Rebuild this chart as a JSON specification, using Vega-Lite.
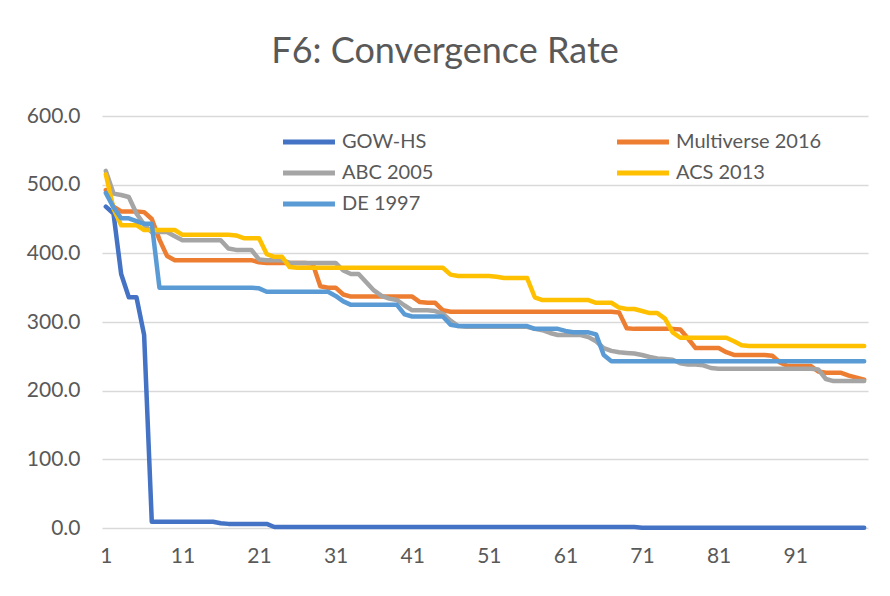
{
  "$schema": "https://vega.github.io/schema/vega-lite/v6.json",
  "width": 766,
  "height": 412,
  "autosize": {"type": "none"},
  "padding": {"left": 102, "top": 116, "right": 22, "bottom": 68},
  "background": "white",
  "title": {
    "text": "F6: Convergence Rate",
    "font": "Lato",
    "fontSize": 36,
    "fontWeight": "normal",
    "color": "#595959",
    "anchor": "middle",
    "dx": -40,
    "offset": 34
  },
  "data": {
    "values": [
      {"i":1,"GOW-HS":468,"Multiverse 2016":492,"ABC 2005":520,"ACS 2013":515,"DE 1997":488},
      {"i":2,"GOW-HS":458,"Multiverse 2016":468,"ABC 2005":487,"ACS 2013":465,"DE 1997":467},
      {"i":3,"GOW-HS":370,"Multiverse 2016":461,"ABC 2005":485,"ACS 2013":441,"DE 1997":451},
      {"i":4,"GOW-HS":336,"Multiverse 2016":461,"ABC 2005":482,"ACS 2013":441,"DE 1997":451},
      {"i":5,"GOW-HS":336,"Multiverse 2016":461,"ABC 2005":458,"ACS 2013":441,"DE 1997":447},
      {"i":6,"GOW-HS":281,"Multiverse 2016":460,"ABC 2005":442,"ACS 2013":434,"DE 1997":443},
      {"i":7,"GOW-HS":9,"Multiverse 2016":450,"ABC 2005":431,"ACS 2013":434,"DE 1997":443},
      {"i":8,"GOW-HS":9,"Multiverse 2016":420,"ABC 2005":431,"ACS 2013":434,"DE 1997":350},
      {"i":9,"GOW-HS":9,"Multiverse 2016":396,"ABC 2005":431,"ACS 2013":434,"DE 1997":350},
      {"i":10,"GOW-HS":9,"Multiverse 2016":390,"ABC 2005":425,"ACS 2013":434,"DE 1997":350},
      {"i":11,"GOW-HS":9,"Multiverse 2016":390,"ABC 2005":419,"ACS 2013":427,"DE 1997":350},
      {"i":12,"GOW-HS":9,"Multiverse 2016":390,"ABC 2005":419,"ACS 2013":427,"DE 1997":350},
      {"i":13,"GOW-HS":9,"Multiverse 2016":390,"ABC 2005":419,"ACS 2013":427,"DE 1997":350},
      {"i":14,"GOW-HS":9,"Multiverse 2016":390,"ABC 2005":419,"ACS 2013":427,"DE 1997":350},
      {"i":15,"GOW-HS":9,"Multiverse 2016":390,"ABC 2005":419,"ACS 2013":427,"DE 1997":350},
      {"i":16,"GOW-HS":7,"Multiverse 2016":390,"ABC 2005":419,"ACS 2013":427,"DE 1997":350},
      {"i":17,"GOW-HS":6,"Multiverse 2016":390,"ABC 2005":407,"ACS 2013":427,"DE 1997":350},
      {"i":18,"GOW-HS":6,"Multiverse 2016":390,"ABC 2005":405,"ACS 2013":426,"DE 1997":350},
      {"i":19,"GOW-HS":6,"Multiverse 2016":390,"ABC 2005":405,"ACS 2013":422,"DE 1997":350},
      {"i":20,"GOW-HS":6,"Multiverse 2016":390,"ABC 2005":405,"ACS 2013":422,"DE 1997":350},
      {"i":21,"GOW-HS":6,"Multiverse 2016":387,"ABC 2005":391,"ACS 2013":422,"DE 1997":349},
      {"i":22,"GOW-HS":6,"Multiverse 2016":386,"ABC 2005":390,"ACS 2013":399,"DE 1997":344},
      {"i":23,"GOW-HS":1.5,"Multiverse 2016":386,"ABC 2005":390,"ACS 2013":395,"DE 1997":344},
      {"i":24,"GOW-HS":1.5,"Multiverse 2016":386,"ABC 2005":390,"ACS 2013":395,"DE 1997":344},
      {"i":25,"GOW-HS":1.5,"Multiverse 2016":386,"ABC 2005":386,"ACS 2013":380,"DE 1997":344},
      {"i":26,"GOW-HS":1.5,"Multiverse 2016":386,"ABC 2005":386,"ACS 2013":379,"DE 1997":344},
      {"i":27,"GOW-HS":1.5,"Multiverse 2016":386,"ABC 2005":386,"ACS 2013":379,"DE 1997":344},
      {"i":28,"GOW-HS":1.5,"Multiverse 2016":385,"ABC 2005":386,"ACS 2013":379,"DE 1997":344},
      {"i":29,"GOW-HS":1.5,"Multiverse 2016":352,"ABC 2005":386,"ACS 2013":379,"DE 1997":344},
      {"i":30,"GOW-HS":1.5,"Multiverse 2016":350,"ABC 2005":386,"ACS 2013":379,"DE 1997":344},
      {"i":31,"GOW-HS":1.5,"Multiverse 2016":350,"ABC 2005":386,"ACS 2013":379,"DE 1997":338},
      {"i":32,"GOW-HS":1.5,"Multiverse 2016":340,"ABC 2005":375,"ACS 2013":379,"DE 1997":330},
      {"i":33,"GOW-HS":1.5,"Multiverse 2016":337,"ABC 2005":370,"ACS 2013":379,"DE 1997":325},
      {"i":34,"GOW-HS":1.5,"Multiverse 2016":337,"ABC 2005":370,"ACS 2013":379,"DE 1997":325},
      {"i":35,"GOW-HS":1.5,"Multiverse 2016":337,"ABC 2005":358,"ACS 2013":379,"DE 1997":325},
      {"i":36,"GOW-HS":1.5,"Multiverse 2016":337,"ABC 2005":346,"ACS 2013":379,"DE 1997":325},
      {"i":37,"GOW-HS":1.5,"Multiverse 2016":337,"ABC 2005":338,"ACS 2013":379,"DE 1997":325},
      {"i":38,"GOW-HS":1.5,"Multiverse 2016":337,"ABC 2005":334,"ACS 2013":379,"DE 1997":325},
      {"i":39,"GOW-HS":1.5,"Multiverse 2016":337,"ABC 2005":332,"ACS 2013":379,"DE 1997":325},
      {"i":40,"GOW-HS":1.5,"Multiverse 2016":337,"ABC 2005":324,"ACS 2013":379,"DE 1997":311},
      {"i":41,"GOW-HS":1.5,"Multiverse 2016":337,"ABC 2005":317,"ACS 2013":379,"DE 1997":308},
      {"i":42,"GOW-HS":1.5,"Multiverse 2016":329,"ABC 2005":317,"ACS 2013":379,"DE 1997":308},
      {"i":43,"GOW-HS":1.5,"Multiverse 2016":328,"ABC 2005":317,"ACS 2013":379,"DE 1997":308},
      {"i":44,"GOW-HS":1.5,"Multiverse 2016":328,"ABC 2005":316,"ACS 2013":379,"DE 1997":308},
      {"i":45,"GOW-HS":1.5,"Multiverse 2016":317,"ABC 2005":312,"ACS 2013":379,"DE 1997":308},
      {"i":46,"GOW-HS":1.5,"Multiverse 2016":315,"ABC 2005":302,"ACS 2013":369,"DE 1997":296},
      {"i":47,"GOW-HS":1.5,"Multiverse 2016":315,"ABC 2005":294,"ACS 2013":367,"DE 1997":294},
      {"i":48,"GOW-HS":1.5,"Multiverse 2016":315,"ABC 2005":293,"ACS 2013":367,"DE 1997":294},
      {"i":49,"GOW-HS":1.5,"Multiverse 2016":315,"ABC 2005":293,"ACS 2013":367,"DE 1997":294},
      {"i":50,"GOW-HS":1.5,"Multiverse 2016":315,"ABC 2005":293,"ACS 2013":367,"DE 1997":294},
      {"i":51,"GOW-HS":1.5,"Multiverse 2016":315,"ABC 2005":293,"ACS 2013":367,"DE 1997":294},
      {"i":52,"GOW-HS":1.5,"Multiverse 2016":315,"ABC 2005":293,"ACS 2013":366,"DE 1997":294},
      {"i":53,"GOW-HS":1.5,"Multiverse 2016":315,"ABC 2005":293,"ACS 2013":364,"DE 1997":294},
      {"i":54,"GOW-HS":1.5,"Multiverse 2016":315,"ABC 2005":293,"ACS 2013":364,"DE 1997":294},
      {"i":55,"GOW-HS":1.5,"Multiverse 2016":315,"ABC 2005":293,"ACS 2013":364,"DE 1997":294},
      {"i":56,"GOW-HS":1.5,"Multiverse 2016":315,"ABC 2005":293,"ACS 2013":364,"DE 1997":294},
      {"i":57,"GOW-HS":1.5,"Multiverse 2016":315,"ABC 2005":290,"ACS 2013":336,"DE 1997":290},
      {"i":58,"GOW-HS":1.5,"Multiverse 2016":315,"ABC 2005":288,"ACS 2013":332,"DE 1997":290},
      {"i":59,"GOW-HS":1.5,"Multiverse 2016":315,"ABC 2005":284,"ACS 2013":332,"DE 1997":290},
      {"i":60,"GOW-HS":1.5,"Multiverse 2016":315,"ABC 2005":281,"ACS 2013":332,"DE 1997":290},
      {"i":61,"GOW-HS":1.5,"Multiverse 2016":315,"ABC 2005":281,"ACS 2013":332,"DE 1997":287},
      {"i":62,"GOW-HS":1.5,"Multiverse 2016":315,"ABC 2005":281,"ACS 2013":332,"DE 1997":285},
      {"i":63,"GOW-HS":1.5,"Multiverse 2016":315,"ABC 2005":281,"ACS 2013":332,"DE 1997":285},
      {"i":64,"GOW-HS":1.5,"Multiverse 2016":315,"ABC 2005":278,"ACS 2013":332,"DE 1997":285},
      {"i":65,"GOW-HS":1.5,"Multiverse 2016":315,"ABC 2005":272,"ACS 2013":328,"DE 1997":282},
      {"i":66,"GOW-HS":1.5,"Multiverse 2016":315,"ABC 2005":262,"ACS 2013":328,"DE 1997":252},
      {"i":67,"GOW-HS":1.5,"Multiverse 2016":315,"ABC 2005":258,"ACS 2013":328,"DE 1997":243},
      {"i":68,"GOW-HS":1.5,"Multiverse 2016":314,"ABC 2005":256,"ACS 2013":321,"DE 1997":243},
      {"i":69,"GOW-HS":1.5,"Multiverse 2016":291,"ABC 2005":255,"ACS 2013":319,"DE 1997":243},
      {"i":70,"GOW-HS":1.5,"Multiverse 2016":290,"ABC 2005":254,"ACS 2013":319,"DE 1997":243},
      {"i":71,"GOW-HS":0.3,"Multiverse 2016":290,"ABC 2005":252,"ACS 2013":316,"DE 1997":243},
      {"i":72,"GOW-HS":0.3,"Multiverse 2016":290,"ABC 2005":249,"ACS 2013":313,"DE 1997":243},
      {"i":73,"GOW-HS":0.3,"Multiverse 2016":290,"ABC 2005":247,"ACS 2013":313,"DE 1997":243},
      {"i":74,"GOW-HS":0.3,"Multiverse 2016":290,"ABC 2005":246,"ACS 2013":305,"DE 1997":243},
      {"i":75,"GOW-HS":0.3,"Multiverse 2016":290,"ABC 2005":245,"ACS 2013":285,"DE 1997":243},
      {"i":76,"GOW-HS":0.3,"Multiverse 2016":289,"ABC 2005":240,"ACS 2013":277,"DE 1997":243},
      {"i":77,"GOW-HS":0.3,"Multiverse 2016":276,"ABC 2005":238,"ACS 2013":277,"DE 1997":243},
      {"i":78,"GOW-HS":0.3,"Multiverse 2016":262,"ABC 2005":238,"ACS 2013":277,"DE 1997":243},
      {"i":79,"GOW-HS":0.3,"Multiverse 2016":262,"ABC 2005":237,"ACS 2013":277,"DE 1997":243},
      {"i":80,"GOW-HS":0.3,"Multiverse 2016":262,"ABC 2005":233,"ACS 2013":277,"DE 1997":243},
      {"i":81,"GOW-HS":0.3,"Multiverse 2016":262,"ABC 2005":232,"ACS 2013":277,"DE 1997":243},
      {"i":82,"GOW-HS":0.3,"Multiverse 2016":256,"ABC 2005":232,"ACS 2013":277,"DE 1997":243},
      {"i":83,"GOW-HS":0.3,"Multiverse 2016":252,"ABC 2005":232,"ACS 2013":272,"DE 1997":243},
      {"i":84,"GOW-HS":0.3,"Multiverse 2016":252,"ABC 2005":232,"ACS 2013":266,"DE 1997":243},
      {"i":85,"GOW-HS":0.3,"Multiverse 2016":252,"ABC 2005":232,"ACS 2013":265,"DE 1997":243},
      {"i":86,"GOW-HS":0.3,"Multiverse 2016":252,"ABC 2005":232,"ACS 2013":265,"DE 1997":243},
      {"i":87,"GOW-HS":0.3,"Multiverse 2016":252,"ABC 2005":232,"ACS 2013":265,"DE 1997":243},
      {"i":88,"GOW-HS":0.3,"Multiverse 2016":251,"ABC 2005":232,"ACS 2013":265,"DE 1997":243},
      {"i":89,"GOW-HS":0.3,"Multiverse 2016":241,"ABC 2005":232,"ACS 2013":265,"DE 1997":243},
      {"i":90,"GOW-HS":0.3,"Multiverse 2016":236,"ABC 2005":232,"ACS 2013":265,"DE 1997":243},
      {"i":91,"GOW-HS":0.3,"Multiverse 2016":236,"ABC 2005":232,"ACS 2013":265,"DE 1997":243},
      {"i":92,"GOW-HS":0.3,"Multiverse 2016":236,"ABC 2005":232,"ACS 2013":265,"DE 1997":243},
      {"i":93,"GOW-HS":0.3,"Multiverse 2016":236,"ABC 2005":232,"ACS 2013":265,"DE 1997":243},
      {"i":94,"GOW-HS":0.3,"Multiverse 2016":228,"ABC 2005":231,"ACS 2013":265,"DE 1997":243},
      {"i":95,"GOW-HS":0.3,"Multiverse 2016":226,"ABC 2005":217,"ACS 2013":265,"DE 1997":243},
      {"i":96,"GOW-HS":0.3,"Multiverse 2016":226,"ABC 2005":214,"ACS 2013":265,"DE 1997":243},
      {"i":97,"GOW-HS":0.3,"Multiverse 2016":226,"ABC 2005":214,"ACS 2013":265,"DE 1997":243},
      {"i":98,"GOW-HS":0.3,"Multiverse 2016":222,"ABC 2005":214,"ACS 2013":265,"DE 1997":243},
      {"i":99,"GOW-HS":0.3,"Multiverse 2016":219,"ABC 2005":214,"ACS 2013":265,"DE 1997":243},
      {"i":100,"GOW-HS":0.3,"Multiverse 2016":216,"ABC 2005":214,"ACS 2013":265,"DE 1997":243}
    ]
  },
  "transform": [
    {"fold": ["GOW-HS", "Multiverse 2016", "ABC 2005", "ACS 2013", "DE 1997"], "as": ["series", "value"]}
  ],
  "mark": {"type": "line", "strokeWidth": 4.5, "strokeJoin": "round", "strokeCap": "round", "clip": false},
  "encoding": {
    "x": {
      "field": "i",
      "type": "quantitative",
      "scale": {"domain": [0.5, 100.5], "nice": false, "zero": false},
      "axis": {
        "title": null,
        "values": [1, 11, 21, 31, 41, 51, 61, 71, 81, 91],
        "grid": false,
        "ticks": false,
        "domain": false,
        "labelFont": "Lato",
        "labelFontSize": 21,
        "labelColor": "#595959",
        "labelPadding": 17,
        "labelFlush": false
      }
    },
    "y": {
      "field": "value",
      "type": "quantitative",
      "scale": {"domain": [0, 600], "nice": false},
      "axis": {
        "title": null,
        "values": [0, 100, 200, 300, 400, 500, 600],
        "format": ".1f",
        "grid": true,
        "gridColor": "#D9D9D9",
        "gridWidth": 1.5,
        "ticks": false,
        "domain": false,
        "labelFont": "Lato",
        "labelFontSize": 21,
        "labelColor": "#595959",
        "labelPadding": 22
      }
    },
    "color": {
      "field": "series",
      "type": "nominal",
      "sort": null,
      "scale": {
        "domain": ["GOW-HS", "ABC 2005", "DE 1997", "Multiverse 2016", "ACS 2013"],
        "range": ["#4472C4", "#A5A5A5", "#5B9BD5", "#ED7D31", "#FFC000"]
      },
      "legend": {
        "title": null,
        "orient": "none",
        "legendX": 197,
        "legendY": 16,
        "columns": 2,
        "columnPadding": 173,
        "rowPadding": 11,
        "symbolType": "M-5,0H5",
        "symbolSize": 108,
        "symbolStrokeWidth": 5,
        "labelFont": "Lato",
        "labelFontSize": 20,
        "labelColor": "#595959",
        "labelOffset": 23,
        "labelLimit": 300
      }
    }
  },
  "config": {
    "view": {"stroke": null}
  }
}
